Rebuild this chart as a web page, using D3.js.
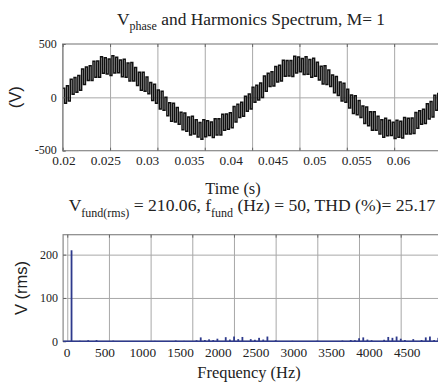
<!DOCTYPE html>
<html>
<head>
<meta charset="utf-8">
<script src="https://cdn.jsdelivr.net/npm/d3@7"></script>
<style>
  body { margin: 0; background: #fff; }
  svg { display: block; }
  .tick text { font-family: 'Liberation Serif', serif; fill: #222; }
  .title { font-family: 'Liberation Serif', serif; fill: #222; }
  .axis-label { font-family: 'Liberation Serif', serif; fill: #222; }
  .axis-label-sans { font-family: 'Liberation Sans', sans-serif; fill: #222; }
</style>
</head>
<body>
<svg width="438" height="385"></svg>
<script>
// time axis of the phase voltage, one sample every 0.2 ms from t = 0.02 s
const tStart = 0.02;
const tStep = 0.0002;
const vPhase = [
  85, -56, 108, -34, 170, 28, 185, 48, 205, 66, 266, 121, 285, 159, 296, 158,
  338, 188, 341, 189, 380, 226, 370, 218, 359, 205, 389, 228, 375, 231, 350, 194,
  356, 188, 323, 153, 326, 154, 280, 111, 236, 66, 235, 58, 190, 33, 140, -29,
  123, -56, 70, -109, 57, -121, 0, -173, -50, -223, -55, -231, -96, -251, -140, -304,
  -146, -318, -183, -353, -176, -344, -210, -371, -235, -393, -209, -370, -219, -358, -230, -376,
  -200, -354, -201, -353, -158, -308, -156, -299, -145, -286, -86, -231, -65, -188, -45, -178,
  10, -131, 32, -109, 95, -46, 113, -24, 135, -2, 200, 58, 225, 101, 241, 106,
  290, 144, 301, 153, 348, 198, 346, 199, 345, 196, 385, 228, 379, 240, 364, 213,
  380, 216, 355, 189, 366, 198, 328, 163, 291, 124, 295, 121, 256, 101, 210, 43,
  195, 18, 145, -34, 133, -46, 75, -99, 22, -151, 15, -163, -30, -188, -80, -246,
  -91, -266, -135, -309, -136, -308, -178, -343, -211, -374, -195, -361, -215, -358, -234, -385,
  -214, -373, -225, -381, -190, -344, -196, -343, -193, -338, -141, -289, -125, -251, -111, -246,
  -60, -203, -40, -183, 20, -121, 37, -99, 60, -76, 133
];

// harmonic spectrum (rms)
const harmFreq = [50, 150, 250, 350, 550, 1050, 1300, 1400, 1550, 1600, 1650, 1700, 1750, 1800,
  1900, 1950, 2000, 2050, 2100, 2200, 2250, 2300, 2350, 2400, 2500, 2700, 3000, 3300, 3400,
  3450, 3500, 3550, 3600, 3650, 3800, 3850, 3900, 3950, 4000, 4050, 4150, 4250, 4300, 4350,
  4400, 4450];
const harmAmp = [210.06, 1.2, 2.5, 2.8, 1.5, 1.0, 1.8, 1.0, 2.5, 9, 3, 4.5, 3, 6,
  9.5, 4, 11, 5, 10, 5, 3.5, 8, 4, 11, 2.5, 1.2, 1.5, 1.8, 3,
  2.5, 7, 9, 4, 2.5, 3.5, 10, 8, 11, 6, 3, 5, 3, 9, 11,
  3, 8];

const timeTicks = [0.02, 0.025, 0.03, 0.035, 0.04, 0.045, 0.05, 0.055, 0.06];
const voltTicks = [-500, 0, 500];
const freqTicks = [0, 500, 1000, 1500, 2000, 2500, 3000, 3500, 4000, 4500];
const rmsTicks = [0, 100, 200];

const svg = d3.select('svg');

const gridColor = '#a8a8a8';
const frameColor = '#888';
const barColor = '#2e3a8c';

// ---------- top panel: phase voltage ----------
const topBox = {left: 62.7, right: 441.5, top: 44, bottom: 150.7};

const xTime = d3.scaleLinear().domain([0.02, 0.06]).range([topBox.left, topBox.right]);
// tick labels in the figure sit on a slightly narrower spacing than the grid
const xTimeLabel = d3.scaleLinear().domain([0.02, 0.06]).range([63.5, 398]);
const yVolt = d3.scaleLinear().domain([-500, 500]).range([topBox.bottom, topBox.top]);

const gTop = svg.append('g');

// grid
gTop.append('g')
  .attr('transform', `translate(0, ${topBox.bottom})`)
  .call(d3.axisBottom(xTime).tickValues(timeTicks).tickSize(-(topBox.bottom - topBox.top)).tickFormat(''))
  .call(g => g.select('.domain').remove())
  .call(g => g.selectAll('line').attr('stroke', gridColor));
gTop.append('g')
  .attr('transform', `translate(${topBox.left}, 0)`)
  .call(d3.axisLeft(yVolt).tickValues([0]).tickSize(-(topBox.right - topBox.left)).tickFormat(''))
  .call(g => g.select('.domain').remove())
  .call(g => g.selectAll('line').attr('stroke', gridColor));

// waveform (switched output, held between samples)
const line = d3.line()
  .x((d, i) => xTime(tStart + i * tStep))
  .y(d => yVolt(d))
  .curve(d3.curveStepAfter);

gTop.append('path')
  .attr('d', line(vPhase))
  .attr('fill', 'none')
  .attr('stroke', '#111')
  .attr('stroke-width', 1.5);

// frame
gTop.append('rect')
  .attr('x', topBox.left).attr('y', topBox.top)
  .attr('width', topBox.right - topBox.left).attr('height', topBox.bottom - topBox.top)
  .attr('fill', 'none').attr('stroke', frameColor).attr('stroke-width', 1.2);

// inward ticks
gTop.append('g')
  .attr('transform', `translate(0, ${topBox.top})`)
  .call(d3.axisTop(xTime).tickValues(timeTicks).tickSize(-3).tickFormat(''))
  .call(g => g.select('.domain').remove())
  .call(g => g.selectAll('line').attr('stroke', '#666'));
gTop.append('g')
  .attr('transform', `translate(0, ${topBox.bottom})`)
  .call(d3.axisBottom(xTime).tickValues(timeTicks).tickSize(-3).tickFormat(''))
  .call(g => g.select('.domain').remove())
  .call(g => g.selectAll('line').attr('stroke', '#666'));
gTop.append('g')
  .attr('transform', `translate(${topBox.left}, 0)`)
  .call(d3.axisLeft(yVolt).tickValues(voltTicks).tickSize(-3).tickFormat(''))
  .call(g => g.select('.domain').remove())
  .call(g => g.selectAll('line').attr('stroke', '#666'));

// labels
gTop.append('g')
  .attr('transform', `translate(0, ${topBox.bottom})`)
  .call(d3.axisBottom(xTimeLabel).tickValues(timeTicks).tickSize(0).tickPadding(5).tickFormat(d => String(d)))
  .call(g => g.select('.domain').remove())
  .call(g => g.selectAll('text').attr('font-size', 13.3));
gTop.append('g')
  .attr('transform', `translate(${topBox.left}, 0)`)
  .call(d3.axisLeft(yVolt).tickValues(voltTicks).tickSize(0).tickPadding(6).tickFormat(d => String(d)))
  .call(g => g.select('.domain').remove())
  .call(g => g.selectAll('text').attr('font-size', 12))
  .call(g => g.selectAll('.tick').filter(d => d === -500).select('text').attr('dy', '0.2em'));

gTop.append('text')
  .attr('class', 'axis-label-sans')
  .attr('transform', `translate(21, ${yVolt(0)}) rotate(-90)`)
  .attr('text-anchor', 'middle')
  .attr('font-size', 16.5)
  .text('(V)');

gTop.append('text')
  .attr('class', 'axis-label')
  .attr('x', 233).attr('y', 194)
  .attr('text-anchor', 'middle')
  .attr('font-size', 16.4)
  .text('Time (s)');

const title1 = svg.append('text')
  .attr('class', 'title')
  .attr('x', 251).attr('y', 25)
  .attr('text-anchor', 'middle')
  .attr('font-size', 17.4);
title1.append('tspan').text('V');
title1.append('tspan').attr('font-size', 12).attr('dy', 5).text('phase');
title1.append('tspan').attr('dy', -5).text(' and Harmonics Spectrum, M= 1');

// ---------- bottom panel: spectrum ----------
const botBox = {left: 63.1, right: 441.5, top: 234.7, bottom: 341.3};

const xFreq = d3.scaleLinear().domain([-50, 4490]).range([botBox.left, botBox.right]);
const xFreqLabel = d3.scaleLinear().domain([0, 4500]).range([66.7, 406.7]);
const yRms = d3.scaleLinear().domain([0, 246]).range([botBox.bottom, botBox.top]);

const gBot = svg.append('g');

gBot.append('g')
  .attr('transform', `translate(0, ${botBox.bottom})`)
  .call(d3.axisBottom(xFreq).tickValues(freqTicks).tickSize(-(botBox.bottom - botBox.top)).tickFormat(''))
  .call(g => g.select('.domain').remove())
  .call(g => g.selectAll('line').attr('stroke', gridColor));
gBot.append('g')
  .attr('transform', `translate(${botBox.left}, 0)`)
  .call(d3.axisLeft(yRms).tickValues([100, 200]).tickSize(-(botBox.right - botBox.left)).tickFormat(''))
  .call(g => g.select('.domain').remove())
  .call(g => g.selectAll('line').attr('stroke', gridColor));

gBot.append('rect')
  .attr('x', botBox.left).attr('y', botBox.top)
  .attr('width', botBox.right - botBox.left).attr('height', botBox.bottom - botBox.top)
  .attr('fill', 'none').attr('stroke', frameColor).attr('stroke-width', 1.2);

gBot.append('g')
  .attr('transform', `translate(0, ${botBox.top})`)
  .call(d3.axisTop(xFreq).tickValues(freqTicks).tickSize(-3).tickFormat(''))
  .call(g => g.select('.domain').remove())
  .call(g => g.selectAll('line').attr('stroke', '#666'));
gBot.append('g')
  .attr('transform', `translate(${botBox.left}, 0)`)
  .call(d3.axisLeft(yRms).tickValues(rmsTicks).tickSize(-3).tickFormat(''))
  .call(g => g.select('.domain').remove())
  .call(g => g.selectAll('line').attr('stroke', '#666'));

// bars
gBot.selectAll('rect.bar').data(harmFreq)
  .enter().append('rect')
    .attr('class', 'bar')
    .attr('x', d => xFreq(d) - 0.8)
    .attr('width', 1.8)
    .attr('y', (d, i) => yRms(harmAmp[i]))
    .attr('height', (d, i) => yRms(0) - yRms(harmAmp[i]))
    .attr('fill', barColor);

gBot.append('line')
  .attr('x1', botBox.left).attr('x2', botBox.right)
  .attr('y1', yRms(0)).attr('y2', yRms(0))
  .attr('stroke', barColor).attr('stroke-width', 1.6);

gBot.append('g')
  .attr('transform', `translate(0, ${botBox.bottom})`)
  .call(d3.axisBottom(xFreqLabel).tickValues(freqTicks).tickSize(0).tickPadding(6).tickFormat(d => String(d)))
  .call(g => g.select('.domain').remove())
  .call(g => g.selectAll('text').attr('font-size', 13.3));
gBot.append('g')
  .attr('transform', `translate(${botBox.left}, 0)`)
  .call(d3.axisLeft(yRms).tickValues(rmsTicks).tickSize(0).tickPadding(5).tickFormat(d => String(d)))
  .call(g => g.select('.domain').remove())
  .call(g => g.selectAll('text').attr('font-size', 12));

gBot.append('text')
  .attr('class', 'axis-label-sans')
  .attr('transform', `translate(27, ${(botBox.top + botBox.bottom) / 2}) rotate(-90)`)
  .attr('text-anchor', 'middle')
  .attr('font-size', 16.5)
  .text('V (rms)');

gBot.append('text')
  .attr('class', 'axis-label')
  .attr('x', 249).attr('y', 378)
  .attr('text-anchor', 'middle')
  .attr('font-size', 16.4)
  .text('Frequency (Hz)');

const title2 = svg.append('text')
  .attr('class', 'title')
  .attr('x', 252).attr('y', 210.5)
  .attr('text-anchor', 'middle')
  .attr('font-size', 17.6);
title2.append('tspan').text('V');
title2.append('tspan').attr('font-size', 12).attr('dy', 6).text('fund(rms)');
title2.append('tspan').attr('dy', -6).text(' = 210.06, f');
title2.append('tspan').attr('font-size', 12).attr('dy', 6).text('fund');
title2.append('tspan').attr('dy', -6).text(' (Hz) = 50, THD (%)= 25.17');
</script>
</body>
</html>
